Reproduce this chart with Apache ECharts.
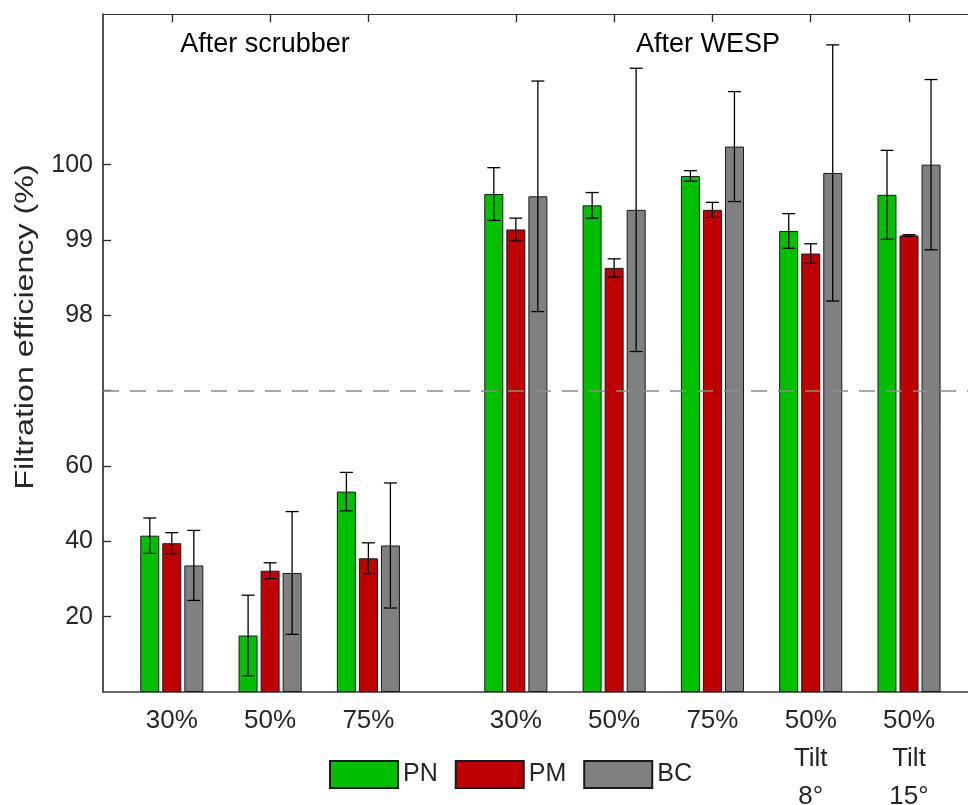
<!DOCTYPE html>
<html>
<head>
<meta charset="utf-8">
<script src="https://cdn.jsdelivr.net/npm/echarts@6/dist/echarts.min.js"></script>
<style>html,body{margin:0;padding:0;background:#fff;}#c{width:968px;height:805px;}</style>
</head>
<body>
<div id="c"></div>
<script>
// ---- data ----
const categories = ['30%', '50%', '75%', '30%', '50%', '75%', '50%\nTilt\n8°', '50%\nTilt\n15°'];
const positions = [1, 2, 3, 4.5, 5.5, 6.5, 7.5, 8.5];
const groupTitles = ['After scrubber', 'After WESP'];
const seriesNames = ['PN', 'PM', 'BC'];
const pnMean = [41.5, 15.0, 53.2, 99.61, 99.46, 99.85, 99.12, 99.60];
const pnErr  = [4.7, 10.7, 5.1, 0.35, 0.17, 0.07, 0.23, 0.59];
const pmMean = [39.5, 32.2, 35.5, 99.14, 98.63, 99.40, 98.82, 99.06];
const pmErr  = [2.8, 2.1, 4.1, 0.15, 0.12, 0.10, 0.13, 0.01];
const bcMean = [33.6, 31.6, 38.9, 99.58, 99.40, 100.24, 99.89, 100.00];
const bcErr  = [9.3, 16.3, 16.6, 1.53, 1.88, 0.73, 1.70, 1.13];
const yTickLabels = [20, 40, 60, 98, 99, 100];
const breakLow = 80, breakHigh = 97, upperScale = 20;

// broken axis transform
function toAxis(v) { return v <= breakLow ? v : breakLow + (v - breakHigh) * upperScale; }
function fromAxis(a) { return a <= breakLow ? a : breakHigh + (a - breakLow) / upperScale; }

const colors = ['#00BF00', '#BF0000', '#808080'];
const means = [pnMean, pmMean, bcMean];
const errs = [pnErr, pmErr, bcErr];
const FONT = 'Liberation Sans, Arial, Helvetica, sans-serif';
const TXT = '#262626';

const barSeries = seriesNames.map((name, s) => ({
  name: name,
  type: 'bar',
  barWidth: 19,
  barGap: '16%',
  z: 2,
  itemStyle: { color: colors[s], borderColor: '#1a1a1a', borderWidth: 1 },
  data: positions.map((x, i) => [x, toAxis(means[s][i])])
}));

const errData = [];
seriesNames.forEach((n, s) => {
  positions.forEach((x, i) => {
    errData.push([x, toAxis(means[s][i] - errs[s][i]), toAxis(means[s][i] + errs[s][i]), s]);
  });
});

const errSeries = {
  type: 'custom',
  z: 4,
  silent: true,
  data: errData,
  encode: { x: 0, y: [1, 2] },
  renderItem: function (params, api) {
    const x = api.value(0);
    const lo = api.coord([x, api.value(1)]);
    const hi = api.coord([x, api.value(2)]);
    const dx = (api.value(3) - 1) * 22;
    const cx = lo[0] + dx;
    const hw = 6.5;
    const st = { stroke: '#000', lineWidth: 1.3 };
    return {
      type: 'group',
      children: [
        { type: 'line', shape: { x1: cx, y1: lo[1], x2: cx, y2: hi[1] }, style: st },
        { type: 'line', shape: { x1: cx - hw, y1: lo[1], x2: cx + hw, y2: lo[1] }, style: st },
        { type: 'line', shape: { x1: cx - hw, y1: hi[1], x2: cx + hw, y2: hi[1] }, style: st }
      ]
    };
  },
  markLine: {
    silent: true,
    symbol: 'none',
    z: 6,
    label: { show: false },
    lineStyle: { type: [16, 11], color: '#8c8c8c', width: 1.5 },
    data: [{ yAxis: breakLow }]
  }
};

const chart = echarts.init(document.getElementById('c'));
chart.setOption({
  animation: false,
  textStyle: { fontFamily: FONT },
  grid: { left: 103, top: 14, right: 0, bottom: 113, containLabel: false, outerBoundsMode: 'none' },
  xAxis: [{
    type: 'value', min: 0.3, max: 9.1, position: 'bottom',
    splitLine: { show: false },
    axisLine: { show: true, lineStyle: { color: '#3a3a3a', width: 1.5 } },
    axisTick: { show: true, inside: true, length: 8, customValues: positions, lineStyle: { color: '#262626', width: 1.3 } },
    axisLabel: {
      customValues: positions,
      fontSize: 26, color: TXT, margin: 10, lineHeight: 38, fontFamily: FONT,
      formatter: function (v) { const i = positions.indexOf(v); return i >= 0 ? categories[i] : ''; }
    }
  }, {
    type: 'value', min: 0.3, max: 9.1, position: 'top',
    splitLine: { show: false },
    axisLine: { show: true, lineStyle: { color: '#3a3a3a', width: 1.2 } },
    axisTick: { show: true, inside: true, length: 8, customValues: positions, lineStyle: { color: '#262626', width: 1.3 } },
    axisLabel: { show: false }
  }],
  yAxis: {
    type: 'value', min: 0, max: 180, interval: 20,
    splitLine: { show: false },
    axisLine: { show: true, lineStyle: { color: '#262626', width: 1.6 } },
    axisTick: { show: true, inside: true, length: 8, customValues: yTickLabels.map(toAxis).concat([breakLow]), lineStyle: { color: '#262626', width: 1.3 } },
    axisLabel: {
      customValues: yTickLabels.map(toAxis),
      fontSize: 25, color: TXT, margin: 10, fontFamily: FONT,
      formatter: function (v) { return String(Math.round(fromAxis(v))); }
    }
  },
  legend: {
    data: seriesNames,
    left: 329, top: 760, padding: 0,
    icon: 'rect',
    itemWidth: 68, itemHeight: 27, itemGap: 17,
    textStyle: { fontSize: 25, color: TXT, fontFamily: FONT }
  },
  graphic: [
    { type: 'text', x: 265, y: 45, style: { text: groupTitles[0], font: '27px ' + FONT, fill: '#000', textAlign: 'center', textVerticalAlign: 'middle' } },
    { type: 'text', x: 708, y: 45, style: { text: groupTitles[1], font: '27px ' + FONT, fill: '#000', textAlign: 'center', textVerticalAlign: 'middle' } },
    { type: 'text', x: 26, y: 327, rotation: Math.PI / 2, scaleX: 1.24, style: { text: 'Filtration efficiency (%)', font: '26px ' + FONT, fill: TXT, textAlign: 'center', textVerticalAlign: 'middle' } }
  ],
  series: barSeries.concat([errSeries])
});
</script>
</body>
</html>
